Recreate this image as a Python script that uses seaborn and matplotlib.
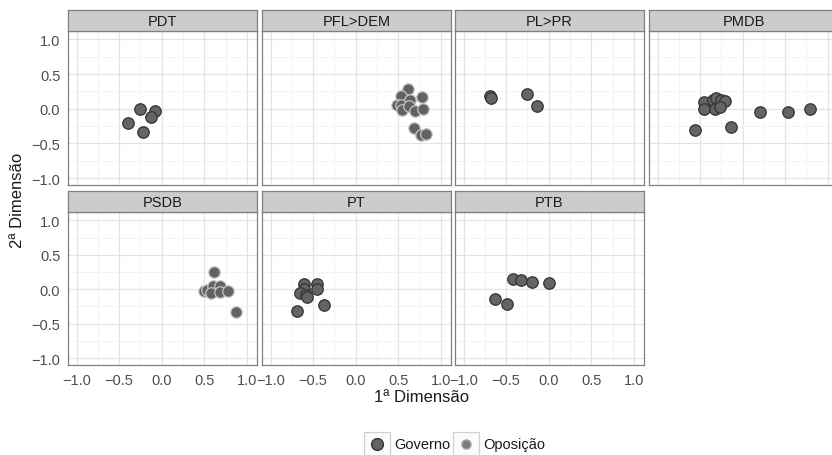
import matplotlib
matplotlib.use("Agg")
import matplotlib.pyplot as plt
import seaborn as sns
import pandas as pd
from matplotlib.patches import Rectangle
from matplotlib.lines import Line2D

sns.set_theme(style="whitegrid")
plt.rcParams['font.family'] = ['Liberation Sans', 'DejaVu Sans']

# ---------------- data ----------------
partidos = ["PDT", "PFL>DEM", "PL>PR", "PMDB", "PSDB", "PT", "PTB"]

pdt_x = [-0.40, -0.25, -0.22, -0.08, -0.13]
pdt_y = [-0.20, 0.00, -0.34, -0.04, -0.12]
pdt_g = ["Governo"] * 5

pfl_x = [0.62, 0.53, 0.64, 0.78, 0.49, 0.53, 0.54, 0.63, 0.70, 0.79, 0.69, 0.77, 0.83]
pfl_y = [0.28, 0.19, 0.13, 0.17, 0.06, 0.06, -0.02, 0.04, -0.03, 0.00, -0.28, -0.38, -0.37]
pfl_g = ["Oposição"] * 13

pl_x = [-0.69, -0.68, -0.26, -0.14]
pl_y = [0.18, 0.16, 0.21, 0.04]
pl_g = ["Governo"] * 4

pmdb_x = [-0.56, -0.45, -0.45, -0.35, -0.31, -0.25, -0.21, -0.33, -0.27, -0.14, 0.20, 0.53, 0.79]
pmdb_y = [-0.30, 0.10, 0.00, 0.13, 0.15, 0.13, 0.11, 0.00, 0.02, -0.26, -0.05, -0.05, -0.01]
pmdb_g = ["Governo"] * 13

psdb_x = [0.62, 0.50, 0.53, 0.60, 0.68, 0.58, 0.69, 0.78, 0.87]
psdb_y = [0.25, -0.03, -0.01, 0.05, 0.04, -0.05, -0.04, -0.02, -0.33]
psdb_g = ["Oposição"] * 9

pt_x = [-0.61, -0.61, -0.65, -0.58, -0.57, -0.455, -0.45, -0.37, -0.69]
pt_y = [0.07, 0.01, -0.05, -0.08, -0.11, 0.08, 0.01, -0.23, -0.32]
pt_g = ["Governo"] * 9

ptb_x = [-0.42, -0.33, -0.20, 0.00, -0.63, -0.49]
ptb_y = [0.15, 0.13, 0.11, 0.09, -0.14, -0.22]
ptb_g = ["Governo"] * 6

grupos = ["Governo", "Oposição"]
x_ticks = [-1.0, -0.5, 0.0, 0.5, 1.0]
y_ticks = [-1.0, -0.5, 0.0, 0.5, 1.0]
tick_labels = ["\u22121.0", "\u22120.5", "0.0", "0.5", "1.0"]

series = {
    "PDT": (pdt_x, pdt_y, pdt_g),
    "PFL>DEM": (pfl_x, pfl_y, pfl_g),
    "PL>PR": (pl_x, pl_y, pl_g),
    "PMDB": (pmdb_x, pmdb_y, pmdb_g),
    "PSDB": (psdb_x, psdb_y, psdb_g),
    "PT": (pt_x, pt_y, pt_g),
    "PTB": (ptb_x, ptb_y, ptb_g),
}
frames = []
for p in partidos:
    xs, ys, gs = series[p]
    frames.append(pd.DataFrame({"partido": p, "d1": xs, "d2": ys, "grupo": gs}))
df = pd.concat(frames, ignore_index=True)

# ---------------- styling ----------------
fill = {"Governo": "#646464", "Oposição": "#626262"}
edge = {"Governo": "#333333", "Oposição": "#c4c4c4"}

W, H = 832, 456
fig = plt.figure(figsize=(W / 100, H / 100), dpi=100)
fig.patch.set_facecolor("white")

col_left = [68, 262, 455, 649]
pw = 189
rows = [(32, 186), (213, 366)]
strip_h = 21

def fx(px):
    return px / W

def fy(py):
    return 1 - py / H

for i, p in enumerate(partidos):
    r, c = divmod(i, 4)
    top, bot = rows[r]
    l = col_left[c]
    ax = fig.add_axes([fx(l), fy(bot), pw / W, (bot - top) / H])
    sub = df[df["partido"] == p]
    for g in grupos:
        sg = sub[sub["grupo"] == g]
        if len(sg) == 0:
            continue
        sns.scatterplot(data=sg, x="d1", y="d2", ax=ax, color=fill[g],
                        edgecolor=edge[g], linewidth=0.9, s=68, legend=False,
                        zorder=3)
    ax.set_xlim(-1.1, 1.12)
    ax.set_ylim(-1.1, 1.12)
    ax.set_xticks(x_ticks)
    ax.set_yticks(y_ticks)
    ax.set_xticks([-0.75, -0.25, 0.25, 0.75], minor=True)
    ax.set_yticks([-0.75, -0.25, 0.25, 0.75], minor=True)
    ax.grid(which="major", color="#e3e3e3", linewidth=0.9)
    ax.grid(which="minor", color="#f3f3f3", linewidth=0.7)
    ax.set_facecolor("white")
    for s in ax.spines.values():
        s.set_color("#808080")
        s.set_linewidth(0.9)
    ax.set_xlabel("")
    ax.set_ylabel("")
    ax.tick_params(which="minor", length=0)
    ax.tick_params(which="major", length=3.5, width=0.8, color="#333333",
                   labelsize=10.5, labelcolor="#4d4d4d", pad=2, direction="out")
    ax.set_xticklabels(tick_labels)
    ax.set_yticklabels(tick_labels)
    show_x = (r == 1)
    show_y = (c == 0)
    if not show_x:
        ax.tick_params(axis="x", which="major", length=0, labelbottom=False)
    if not show_y:
        ax.tick_params(axis="y", which="major", length=0, labelleft=False)
    # strip
    sax = fig.add_axes([fx(l), fy(top), pw / W, strip_h / H])
    sax.set_facecolor("#cccccc")
    sax.set_xticks([])
    sax.set_yticks([])
    for s in sax.spines.values():
        s.set_color("#808080")
        s.set_linewidth(0.9)
    sax.text(0.5, 0.48, p, ha="center", va="center", fontsize=10.5,
             color="#1a1a1a", transform=sax.transAxes)

# axis titles
fig.text(fx(422), fy(398), "1ª Dimensão", ha="center", va="center", fontsize=12,
         color="#1a1a1a")
fig.text(fx(18), fy(200), "2ª Dimensão", ha="center", va="center", fontsize=12,
         color="#1a1a1a", rotation=90)

# legend (bottom, boxed keys as in ggplot)
key_y0, key_y1 = 433, 458
keys = [(364, 390, "Governo", 8.5, "#646464", "#333333"),
        (453, 479, "Oposição", 6.5, "#7a7a7a", "#a0a0a0")]
for x0, x1, lab, ms, fc, ec in keys:
    fig.add_artist(Rectangle((fx(x0), fy(key_y1)), (x1 - x0) / W, (key_y1 - key_y0) / H,
                             transform=fig.transFigure, facecolor="#fbfbfb",
                             edgecolor="#d0d0d0", linewidth=0.9))
    fig.add_artist(Line2D([fx((x0 + x1) / 2)], [fy(445)], marker="o", markersize=ms,
                          markerfacecolor=fc, markeredgecolor=ec, linestyle="none",
                          transform=fig.transFigure))
    fig.text(fx(x1 + 4), fy(445), lab, ha="left", va="center", fontsize=10.5,
             color="#1a1a1a")

fig.savefig("out.png", dpi=100)
